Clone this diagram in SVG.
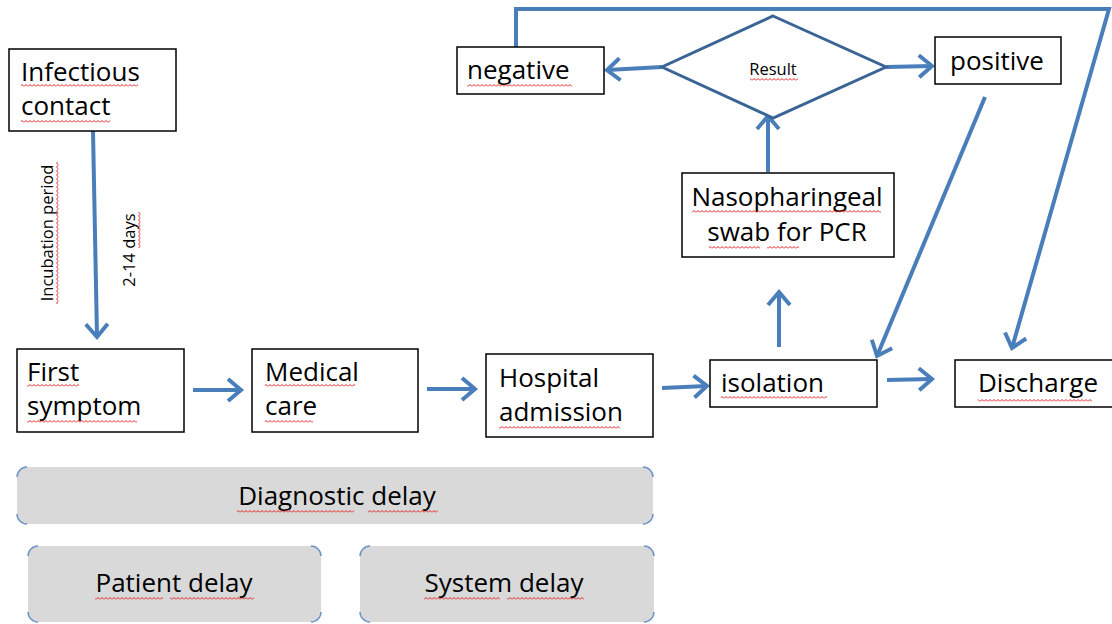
<svg xmlns="http://www.w3.org/2000/svg" width="1112" height="624" viewBox="0 0 1112 624">
<style>
.box{fill:#fff;stroke:#000;stroke-width:1.5}
.t{font-family:"Open Sans","Liberation Sans",sans-serif;font-size:26px;fill:#000}
.s{font-family:"Open Sans","Liberation Sans",sans-serif;font-size:16.5px;fill:#000}
.ca{stroke:#4a7ebb;stroke-width:4;fill:none;marker-end:url(#ah)}
.rb{fill:#d9d9d9}
.corner{stroke:#6f93c9;stroke-width:1.5;fill:none}
.sq{fill:url(#sq)}
</style>
<defs>
<marker id="ah" markerUnits="userSpaceOnUse" markerWidth="20" markerHeight="26" viewBox="0 0 20 26" refX="16" refY="13" orient="auto">
<path d="M3,2 L16,13 L3,24" stroke="#4a7ebb" stroke-width="4" fill="none"/>
</marker>
<pattern id="sq" width="4" height="3" patternUnits="userSpaceOnUse">
<path d="M0,2.5 L2,0.5 L4,2.5" stroke="#e02020" stroke-width="1" fill="none"/>
</pattern>
</defs>
<rect width="1112" height="624" fill="#fff"/>

<g id="connectors">
<line class="ca" x1="93" y1="131" x2="97" y2="337"/>
<line class="ca" x1="193" y1="390" x2="241" y2="390"/>
<line class="ca" x1="427" y1="389" x2="475" y2="389"/>
<line class="ca" x1="662" y1="388" x2="707" y2="386"/>
<line class="ca" x1="887" y1="380" x2="932" y2="379"/>
<line class="ca" x1="779" y1="347" x2="779" y2="292"/>
<line class="ca" x1="768" y1="172" x2="768" y2="116"/>
<line class="ca" x1="662" y1="67" x2="607" y2="70"/>
<line class="ca" x1="886" y1="67" x2="932" y2="66"/>
<line class="ca" x1="985" y1="97" x2="877" y2="356"/>
<polyline class="ca" points="516,47 516,9 1109,9 1012,348"/>
</g>

<g id="infectious-contact">
<rect class="box" x="9" y="49" width="167" height="82"/>
<text class="t" x="21" y="81">Infectious</text>
<text class="t" x="21" y="115">contact</text>
<rect class="sq" x="21" y="84" width="117" height="3"/>
<rect class="sq" x="21" y="120" width="89" height="3"/>
</g>

<g id="incubation-label">
<g transform="translate(53,233) rotate(-90)">
<text class="s" x="0" y="0" text-anchor="middle">Incubation period</text>
<rect class="sq" x="-71" y="3" width="142" height="3"/>
</g>
<g transform="translate(135,250) rotate(-90)">
<text class="s" x="0" y="0" text-anchor="middle">2-14 days</text>
<rect class="sq" x="2" y="3" width="36" height="3"/>
</g>
</g>

<g id="first-symptom">
<rect class="box" x="17" y="349" width="167" height="83"/>
<text class="t" x="27" y="381">First</text>
<text class="t" x="27" y="415">symptom</text>
<rect class="sq" x="27" y="384" width="52" height="3"/>
<rect class="sq" x="27" y="420" width="110" height="3"/>
</g>

<g id="medical-care">
<rect class="box" x="252" y="349" width="166" height="83"/>
<text class="t" x="265" y="381">Medical</text>
<text class="t" x="265" y="415">care</text>
<rect class="sq" x="265" y="384" width="90" height="3"/>
<rect class="sq" x="265" y="420" width="48" height="3"/>
</g>

<g id="hospital-admission">
<rect class="box" x="486" y="354" width="167" height="83"/>
<text class="t" x="499" y="387">Hospital</text>
<text class="t" x="499" y="421">admission</text>
<rect class="sq" x="499" y="426" width="121" height="3"/>
</g>

<g id="isolation">
<rect class="box" x="710" y="360" width="167" height="47"/>
<text class="t" x="721" y="392">isolation</text>
<rect class="sq" x="721" y="396" width="106" height="3"/>
</g>

<g id="discharge">
<rect class="box" x="955" y="360" width="160" height="47"/>
<text class="t" x="978" y="392">Discharge</text>
<rect class="sq" x="978" y="399" width="114" height="3"/>
</g>

<g id="nasopharingeal-swab">
<rect class="box" x="682" y="173" width="212" height="84"/>
<text class="t" x="787" y="206" text-anchor="middle">Nasopharingeal</text>
<text class="t" x="787" y="241" text-anchor="middle">swab for PCR</text>
<rect class="sq" x="692" y="210" width="189" height="3"/>
<rect class="sq" x="709" y="246" width="51" height="3"/>
<rect class="sq" x="767" y="246" width="32" height="3"/>
</g>

<g id="result">
<polygon points="773,16 886,67 773,118 662,67" fill="#fff" stroke="#3b6496" stroke-width="3"/>
<text class="s" x="773" y="75" text-anchor="middle" font-size="15">Result</text>
<rect class="sq" x="750" y="78" width="48" height="3"/>
</g>

<g id="negative">
<rect class="box" x="457" y="47" width="147" height="47"/>
<text class="t" x="467" y="79">negative</text>
<rect class="sq" x="467" y="84" width="105" height="3"/>
</g>

<g id="positive">
<rect class="box" x="935" y="37" width="126" height="47"/>
<text class="t" x="950" y="70">positive</text>
</g>

<g id="diagnostic-delay">
<rect class="rb" x="17" y="467" width="636" height="57" rx="10"/>
<path class="corner" d="M17,477 A10,10 0 0 1 27,467 M643,467 A10,10 0 0 1 653,477 M653,514 A10,10 0 0 1 643,524 M27,524 A10,10 0 0 1 17,514"/>
<text class="t" x="337" y="505" text-anchor="middle">Diagnostic delay</text>
<rect class="sq" x="237" y="510" width="117" height="3"/>
<rect class="sq" x="368" y="510" width="70" height="3"/>
</g>

<g id="patient-delay">
<rect class="rb" x="28" y="546" width="293" height="76" rx="10"/>
<path class="corner" d="M28,556 A10,10 0 0 1 38,546 M311,546 A10,10 0 0 1 321,556 M321,612 A10,10 0 0 1 311,622 M38,622 A10,10 0 0 1 28,612"/>
<text class="t" x="174" y="592" text-anchor="middle">Patient delay</text>
<rect class="sq" x="95" y="597" width="68" height="3"/>
<rect class="sq" x="170" y="597" width="84" height="3"/>
</g>

<g id="system-delay">
<rect class="rb" x="360" y="546" width="294" height="76" rx="10"/>
<path class="corner" d="M360,556 A10,10 0 0 1 370,546 M644,546 A10,10 0 0 1 654,556 M654,612 A10,10 0 0 1 644,622 M370,622 A10,10 0 0 1 360,612"/>
<text class="t" x="504" y="592" text-anchor="middle">System delay</text>
<rect class="sq" x="424" y="597" width="76" height="3"/>
<rect class="sq" x="507" y="597" width="77" height="3"/>
</g>
</svg>
